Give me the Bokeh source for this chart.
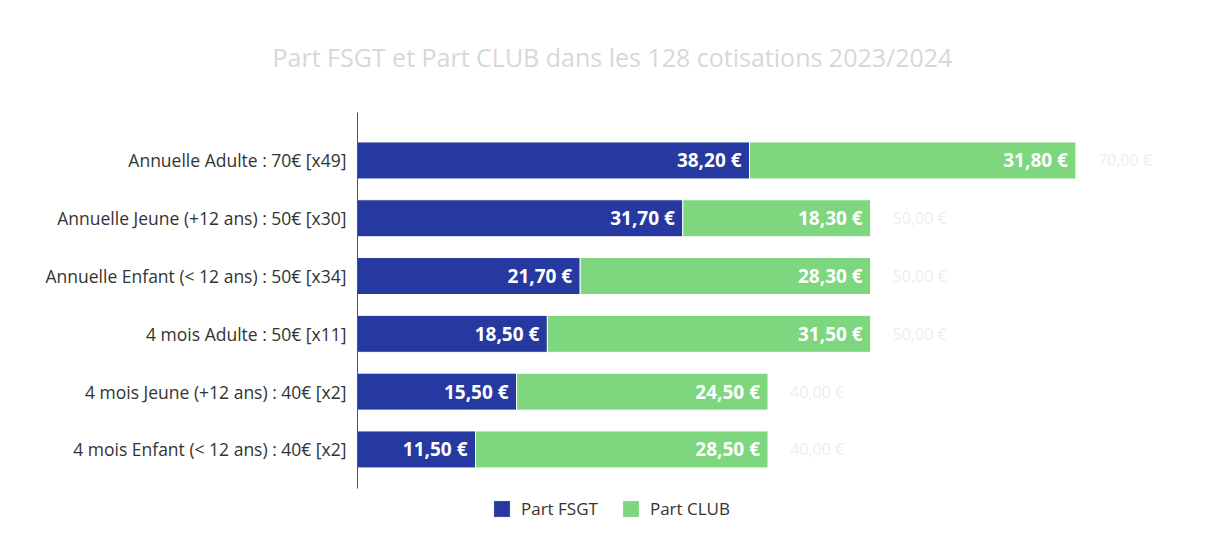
from bokeh.plotting import figure
from bokeh.models import ColumnDataSource, Range1d, FixedTicker, Legend, LegendItem, Title
from bokeh.core.properties import value
from bokeh.embed import file_html
from bokeh.resources import INLINE

# ---- data ----
categories = [
    "Annuelle Adulte : 70€ [x49]",
    "Annuelle Jeune (+12 ans) : 50€ [x30]",
    "Annuelle Enfant (< 12 ans) : 50€ [x34]",
    "4 mois Adulte : 50€ [x11]",
    "4 mois Jeune (+12 ans) : 40€ [x2]",
    "4 mois Enfant (< 12 ans) : 40€ [x2]",
]
part_fsgt = [38.20, 31.70, 21.70, 18.50, 15.50, 11.50]
part_club = [31.80, 18.30, 28.30, 31.50, 24.50, 28.50]
series_names = ["Part FSGT", "Part CLUB"]
title_text = "Part FSGT et Part CLUB dans les 128 cotisations 2023/2024"


def fmt(v):
    return f"{v:.2f}".replace(".", ",") + " €"


ys = list(range(len(categories)))
totals = [a + b for a, b in zip(part_fsgt, part_club)]

src = ColumnDataSource(dict(
    y=ys,
    fsgt=part_fsgt,
    club=part_club,
    total=totals,
    fsgt_lbl=[fmt(v) for v in part_fsgt],
    club_lbl=[fmt(v) for v in part_club],
    tot_lbl=[fmt(v) for v in totals],
))

FONT = "Open Sans"
BLUE = "#2539a0"
GREEN = "#7ed67f"

p = figure(
    width=1196, height=520,
    x_range=Range1d(0, 79.8), y_range=Range1d(6.23, -0.83),
    output_backend="svg", toolbar_location=None,
    x_axis_location=None,
    min_border_left=357, min_border_right=20,
    min_border_top=112, min_border_bottom=0,
)
p.outline_line_color = None
p.xgrid.visible = False
p.ygrid.visible = False

r1 = p.hbar(y="y", left=0, right="fsgt", height=0.64, fill_color=BLUE,
            line_color="white", line_width=1, source=src)
r2 = p.hbar(y="y", left="fsgt", right="total", height=0.64, fill_color=GREEN,
            line_color="white", line_width=1, source=src)

lbl_kw = dict(text_align="right", text_baseline="middle", text_color="white",
              text_font_style="bold", text_font_size="19px",
              text_font=value(FONT), x_offset=-8, source=src)
p.text(x="fsgt", y="y", text="fsgt_lbl", **lbl_kw)
p.text(x="total", y="y", text="club_lbl", **lbl_kw)
p.text(x="total", y="y", text="tot_lbl", x_offset=22, text_align="left",
       text_baseline="middle", text_color="#eeeeee", text_font_size="16px",
       text_font=value(FONT), source=src)

ax = p.yaxis[0]
ax.ticker = FixedTicker(ticks=ys)
ax.bounds = (-0.83, len(categories) - 0.33)
ax.major_label_overrides = {i: c for i, c in enumerate(categories)}
ax.major_tick_line_color = None
ax.minor_tick_line_color = None
ax.axis_line_color = "#555555"
ax.major_label_text_font = FONT
ax.major_label_text_font_size = "17.5px"
ax.major_label_text_color = "#333333"
ax.major_label_standoff = 5

p.add_layout(Title(text=title_text, align="left", offset=-85,
                   vertical_align="middle",
                   text_font=FONT, text_font_size="25px", text_font_style="normal",
                   text_color="#d8d8d8", standoff=76), "above")

legend = Legend(
    items=[LegendItem(label=series_names[0], renderers=[r1]),
           LegendItem(label=series_names[1], renderers=[r2])],
    orientation="horizontal", location=(134, 0),
    border_line_color=None, background_fill_alpha=0,
    padding=0, margin=0, glyph_width=21, glyph_height=21,
    label_standoff=9, spacing=22,
    label_text_font=FONT, label_text_font_size="17px", label_text_color="#333333",
)
p.add_layout(legend)

open("out.html", "w").write(file_html(p, INLINE))
